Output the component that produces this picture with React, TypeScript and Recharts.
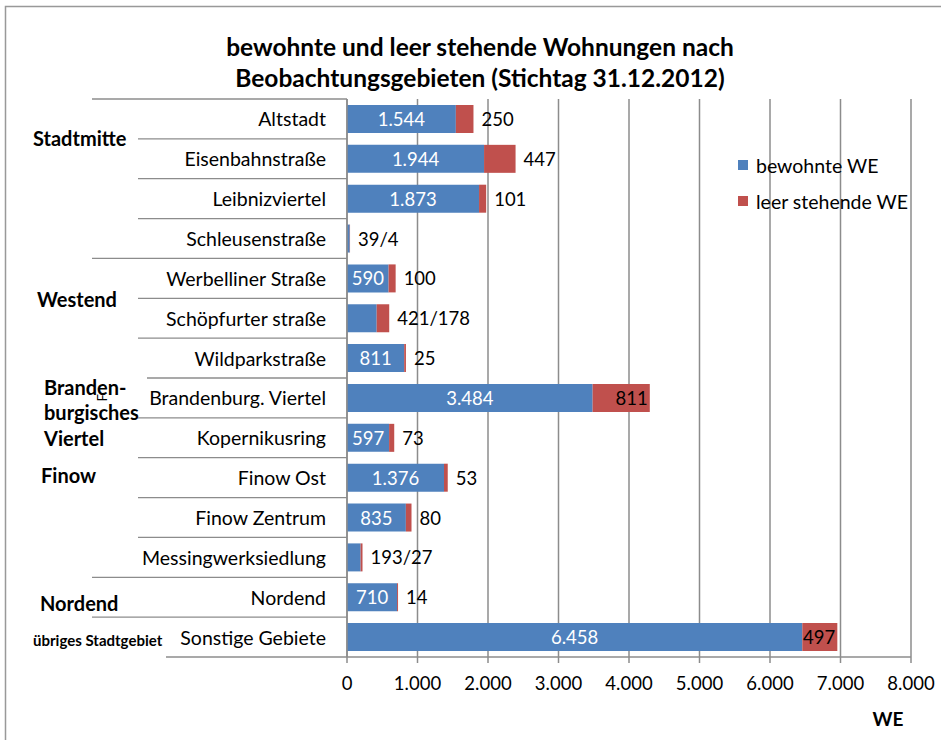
import { BarChart, Bar, XAxis, YAxis, CartesianGrid, LabelList } from "recharts";

const categories = [
  "Altstadt",
  "Eisenbahnstraße",
  "Leibnizviertel",
  "Schleusenstraße",
  "Werbelliner Straße",
  "Schöpfurter straße",
  "Wildparkstraße",
  "Brandenburg. Viertel",
  "Kopernikusring",
  "Finow Ost",
  "Finow Zentrum",
  "Messingwerksiedlung",
  "Nordend",
  "Sonstige Gebiete",
];
const bewohnt = [1544, 1944, 1873, 39, 590, 421, 811, 3484, 597, 1376, 835, 193, 710, 6458];
const leer = [250, 447, 101, 4, 100, 178, 25, 811, 73, 53, 80, 27, 14, 497];
const xTicks = [0, 1000, 2000, 3000, 4000, 5000, 6000, 7000, 8000];
const groupNames = ["Stadtmitte", "Westend", "Branden-|burgisches|Viertel", "Finow", "Nordend", "übriges Stadtgebiet"];
const seriesNames = ["bewohnte WE", "leer stehende WE"];

const FONT = "Lato, 'Open Sans', sans-serif";
const BLUE = "#4F81BD";
const RED = "#C0504D";
const GRID = "#8c8c8c";
const CAT_SIZE = 19.5;
const NUM_SIZE = 18.5;

// where each group label sits: category index, vertical shift, left x, font size
const groupPlacement = [
  { at: 0, dy: 19, x: 33, size: 20 },
  { at: 4, dy: 21, x: 37, size: 20 },
  { at: 7, dy: -11, x: 44, size: 20, lineGap: 25.5 },
  { at: 9, dy: -3, x: 41, size: 20 },
  { at: 12, dy: 6, x: 40, size: 20 },
  { at: 13, dy: 3, x: 33, size: 15 },
];
const longSeparators = [0, 4, 12, 13];

const fmt = (n: number) => String(n).replace(/\B(?=(\d{3})+(?!\d))/g, ".");

const data = categories.map((name, i) => ({
  name,
  bewohnt: bewohnt[i],
  leer: leer[i],
}));

const CategoryTick = (props: any) => {
  const { x, y, payload, index } = props;
  const half = payload?.offset ?? 20;
  const axisX = x;
  let lineStart = axisX - 209;
  if (longSeparators.includes(index)) lineStart = axisX - 255;
  if (index === 7) lineStart = axisX - 200;
  const gi = groupPlacement.findIndex((g) => g.at === index);
  return (
    <g>
      <line x1={lineStart} x2={axisX} y1={y - half} y2={y - half} stroke={GRID} strokeWidth={1.3} />
      {index === categories.length - 1 && (
        <line x1={axisX - 181} x2={axisX} y1={y + half} y2={y + half} stroke={GRID} strokeWidth={1.3} />
      )}
      <text x={axisX - 21} y={y} textAnchor="end" dominantBaseline="central" fontSize={CAT_SIZE} fill="#000" fontFamily={FONT}>
        {payload.value}
      </text>
      {gi >= 0 &&
        groupNames[gi].split("|").map((line, k) => (
          <text
            key={k}
            x={groupPlacement[gi].x}
            y={y + groupPlacement[gi].dy + k * (groupPlacement[gi].lineGap ?? 0)}
            dominantBaseline="central"
            fontSize={groupPlacement[gi].size}
            fontWeight="bold"
            fill="#000"
            fontFamily={FONT}
          >
            {line}
          </text>
        ))}
      {index === 7 && (
        <text x={102} y={y} fontSize={13} fontFamily={FONT} transform={`rotate(-90 102 ${y})`} textAnchor="middle" dominantBaseline="central">
          F
        </text>
      )}
    </g>
  );
};

const BlueLabel = (props: any) => {
  const { x, y, width, height, index } = props;
  if (bewohnt[index] < 500) return null;
  return (
    <text x={x + width / 2} y={y + height / 2} textAnchor="middle" dominantBaseline="central" fill="#fff" fontSize={NUM_SIZE} fontFamily={FONT}>
      {fmt(bewohnt[index])}
    </text>
  );
};

const RedLabel = (props: any) => {
  const { x, y, width, height, index } = props;
  const total = bewohnt[index] + leer[index];
  if (total > 4000) {
    return (
      <text x={x + width - 2} y={y + height / 2} textAnchor="end" dominantBaseline="central" fill="#000" fontSize={NUM_SIZE} fontFamily={FONT}>
        {fmt(leer[index])}
      </text>
    );
  }
  const text = bewohnt[index] < 500 ? `${bewohnt[index]}/${leer[index]}` : fmt(leer[index]);
  return (
    <text x={x + width + 8} y={y + height / 2} textAnchor="start" dominantBaseline="central" fill="#000" fontSize={NUM_SIZE} fontFamily={FONT}>
      {text}
    </text>
  );
};

export default function App() {
  return (
    <div style={{ position: "absolute", left: 0, top: 0, width: 941, height: 740, background: "#fff", fontFamily: FONT }}>
      <BarChart
        width={941}
        height={740}
        data={data}
        layout="vertical"
        margin={{ top: 99, right: 30, bottom: 53, left: 0 }}
        barCategoryGap="15%"
      >
        <rect x={5.5} y={6.5} width={1000} height={1000} fill="none" stroke="#999" strokeWidth={1.5} />
        <text x={480} y={46} textAnchor="middle" dominantBaseline="central" fontSize={24.5} fontWeight="bold" fontFamily={FONT} fill="#000">
          bewohnte und leer stehende Wohnungen nach
        </text>
        <text x={480} y={77} textAnchor="middle" dominantBaseline="central" fontSize={24.5} fontWeight="bold" fontFamily={FONT} fill="#000">
          Beobachtungsgebieten (Stichtag 31.12.2012)
        </text>
        <text x={888} y={718} textAnchor="middle" dominantBaseline="central" fontSize={19} fontWeight="bold" fontFamily={FONT} fill="#000">
          WE
        </text>
        {seriesNames.map((s, i) => (
          <g key={s}>
            <rect x={738} y={160 + i * 36} width={10} height={10} fill={i === 0 ? BLUE : RED} />
            <text x={756} y={165 + i * 36} dominantBaseline="central" fontSize={CAT_SIZE} fontFamily={FONT} fill="#000">
              {s}
            </text>
          </g>
        ))}
        <CartesianGrid horizontal={false} vertical stroke={GRID} strokeWidth={1.5} />
        <XAxis
          type="number"
          domain={[0, 8000]}
          ticks={xTicks}
          tickFormatter={fmt}
          stroke={GRID}
          strokeWidth={1.5}
          height={30}
          tickSize={6}
          tickMargin={14}
          interval={0}
          tick={{ fill: "#000", fontSize: NUM_SIZE, fontFamily: FONT }}
        />
        <YAxis
          type="category"
          dataKey="name"
          width={347}
          stroke={GRID}
          strokeWidth={1.5}
          tickLine={false}
          tickSize={0}
          tickMargin={0}
          interval={0}
          tick={<CategoryTick />}
        />
        <Bar dataKey="bewohnt" name={seriesNames[0]} stackId="a" fill={BLUE} isAnimationActive={false}>
          <LabelList dataKey="bewohnt" content={<BlueLabel />} />
        </Bar>
        <Bar dataKey="leer" name={seriesNames[1]} stackId="a" fill={RED} isAnimationActive={false}>
          <LabelList dataKey="leer" content={<RedLabel />} />
        </Bar>
      </BarChart>
    </div>
  );
}
